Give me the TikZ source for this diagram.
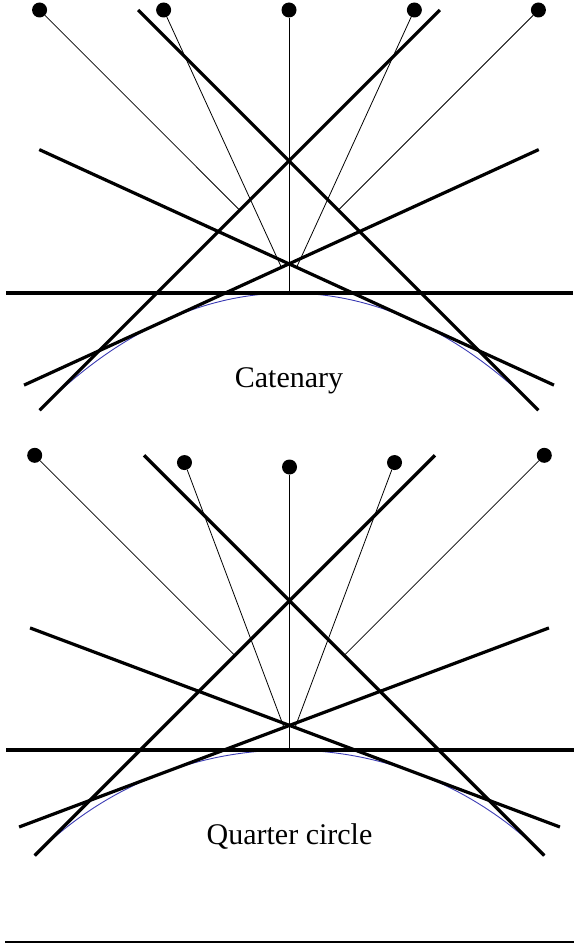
\documentclass[tikz,border=0pt]{standalone}
\usepackage{fontspec}
\setmainfont{Liberation Serif}
\definecolor{curveblue}{RGB}{60,60,180}
\begin{document}
\begin{tikzpicture}[x=1pt,y=-1pt,
  tline/.style={line width=3.2pt},
  string/.style={line width=0.8pt},
  dot/.style={circle,fill=black,inner sep=0pt,minimum size=15pt},
  curve/.style={line width=0.9pt,draw=curveblue},
  caption/.style={font=\fontsize{30}{36}\selectfont,anchor=base,inner sep=0pt}]
\useasboundingbox (0,0) rectangle (574,944);

% ---------------- Catenary ----------------
\draw[curve] plot[domain=-0.88137:0.88137,samples=80,smooth]
  ({289+283*\x},{293+283*(cosh(\x)-1)});

\coordinate (aF0) at (289,293);
\coordinate (aFR1) at (296.60,267.34);
\coordinate (aFL1) at (281.40,267.34);
\coordinate (aFR2) at (338.32,210.12);
\coordinate (aFL2) at (239.68,210.12);

\node[dot] (aD0) at (289,10) {};
\node[dot] (aDR1) at (414.36,10) {};
\node[dot] (aDL1) at (163.64,10) {};
\node[dot] (aDR2) at (538.43,10) {};
\node[dot] (aDL2) at (39.57,10) {};

\draw[string] (aD0) -- (aF0);
\draw[string] (aDR1) -- (aFR1);
\draw[string] (aDL1) -- (aFL1);
\draw[string] (aDR2) -- (aFR2);
\draw[string] (aDL2) -- (aFL2);

\coordinate (aH1) at (6,293);       \coordinate (aH2) at (573,293);
\coordinate (aR1a) at (39.26,149.58);  \coordinate (aR1b) at (553.94,385.10);
\coordinate (aL1a) at (538.74,149.58); \coordinate (aL1b) at (24.06,385.10);
\coordinate (aR2a) at (138.21,10.01);  \coordinate (aR2b) at (538.43,410.23);
\coordinate (aL2a) at (439.79,10.01);  \coordinate (aL2b) at (39.57,410.23);

\draw[tline] (aH1) -- (aH2);
\draw[tline] (aR1a) -- (aR1b);
\draw[tline] (aL1a) -- (aL1b);
\draw[tline] (aR2a) -- (aR2b);
\draw[tline] (aL2a) -- (aL2b);

\node[caption] (acap) at (289,387) {Catenary};

% ---------------- Quarter circle ----------------
\draw[curve] plot[domain=225:315,samples=80,smooth]
  ({289.5+360.33*cos(\x)},{1110.33+360.33*sin(\x)});

\coordinate (bF0) at (289.5,750);
\coordinate (bFR1) at (295.00,727.47);
\coordinate (bFL1) at (284.00,727.47);
\coordinate (bFR2) at (344.18,655.43);
\coordinate (bFL2) at (234.82,655.43);

\node[dot] (bD0) at (289.5,467) {};
\node[dot] (bDR1) at (394.53,462.55) {};
\node[dot] (bDL1) at (184.47,462.55) {};
\node[dot] (bDR2) at (544.29,455.32) {};
\node[dot] (bDL2) at (34.71,455.32) {};

\draw[string] (bD0) -- (bF0);
\draw[string] (bDR1) -- (bFR1);
\draw[string] (bDL1) -- (bFL1);
\draw[string] (bDR2) -- (bFR2);
\draw[string] (bDL2) -- (bFL2);

\coordinate (bH1) at (6,750);       \coordinate (bH2) at (574,750);
\coordinate (bR1a) at (30.08,627.94);  \coordinate (bR1b) at (559.92,827.00);
\coordinate (bL1a) at (548.92,627.94); \coordinate (bL1b) at (19.08,827.00);
\coordinate (bR2a) at (144.07,455.32); \coordinate (bR2b) at (544.29,855.54);
\coordinate (bL2a) at (434.93,455.32); \coordinate (bL2b) at (34.71,855.54);

\draw[tline] (bH1) -- (bH2);
\draw[tline] (bR1a) -- (bR1b);
\draw[tline] (bL1a) -- (bL1b);
\draw[tline] (bR2a) -- (bR2b);
\draw[tline] (bL2a) -- (bL2b);

\node[caption] (bcap) at (289.5,844) {Quarter circle};

% bottom rule
\coordinate (r1) at (5,942); \coordinate (r2) at (574,942);
\draw[line width=2.2pt] (r1) -- (r2);
\end{tikzpicture}
\end{document}
